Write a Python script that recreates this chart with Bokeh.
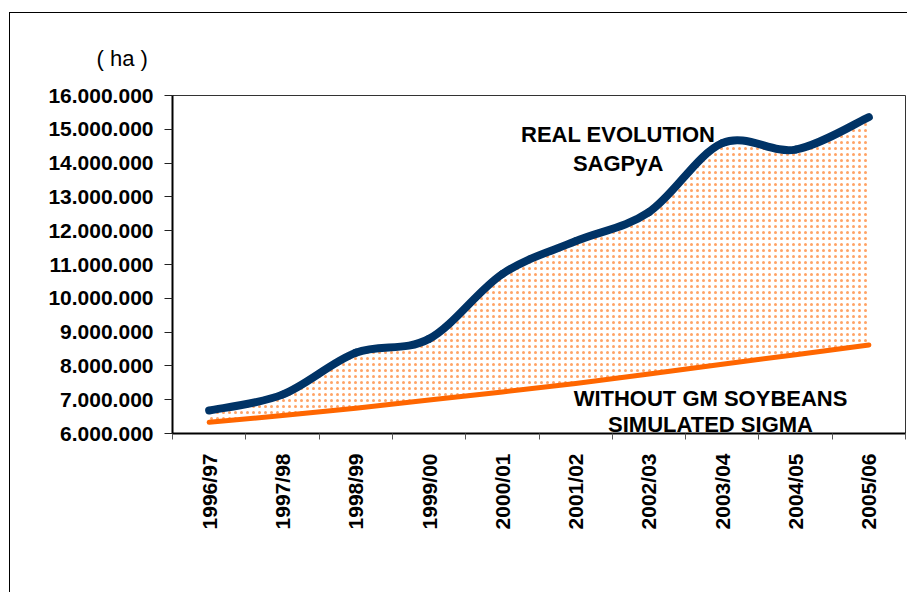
from math import pi
from bokeh.plotting import figure
from bokeh.models import (Range1d, LinearAxis, FixedTicker, Label, ColumnDataSource, Title)
from bokeh.embed import file_html
from bokeh.resources import INLINE

# ---------------- data ----------------
seasons = ["1996/97", "1997/98", "1998/99", "1999/00", "2000/01",
           "2001/02", "2002/03", "2003/04", "2004/05", "2005/06"]
real_evolution = [6680000, 7150000, 8390000, 8800000, 10720000,
                  11690000, 12550000, 14590000, 14400000, 15360000]
without_gm = [6330000, 6530000, 6750000, 6990000, 7230000,
              7480000, 7760000, 8050000, 8330000, 8620000]
y_ticks = [6000000, 7000000, 8000000, 9000000, 10000000, 11000000,
           12000000, 13000000, 14000000, 15000000, 16000000]
y_tick_labels = ["6.000.000", "7.000.000", "8.000.000", "9.000.000",
                 "10.000.000", "11.000.000", "12.000.000", "13.000.000",
                 "14.000.000", "15.000.000", "16.000.000"]
unit_label = "( ha )"
real_label = ["REAL EVOLUTION", "SAGPyA"]
sim_label = ["WITHOUT GM SOYBEANS", "SIMULATED SIGMA"]

FONT = "Liberation Sans"
BLUE = "#003366"
ORANGE = "#FF6600"

n = len(seasons)
xs = [i + 0.5 for i in range(n)]          # category centres
edges = list(range(n + 1))                # category boundaries

p = figure(width=898, height=580, x_range=Range1d(0, n),
           y_range=Range1d(y_ticks[0], y_ticks[-1]),
           output_backend="svg", toolbar_location=None,
           x_axis_location=None, y_axis_location=None,
           min_border_left=162, min_border_right=3,
           min_border_top=82, min_border_bottom=160)
p.styles = {"margin-left": "9px", "margin-top": "12px",
            "border-top": "1px solid #000", "border-left": "1px solid #000"}
p.xgrid.visible = False
p.ygrid.visible = False
p.outline_line_color = "#333333"
p.outline_line_width = 1
p.background_fill_color = "white"
p.border_fill_color = "white"

# unit caption above the axis
p.title = Title(text=unit_label, align="left", offset=-76, standoff=50,
                text_font=FONT, text_font_style="normal", text_font_size="22px",
                text_color="black")

# y axis
yaxis = LinearAxis(ticker=FixedTicker(ticks=y_ticks),
                   major_label_overrides=dict(zip(y_ticks, y_tick_labels)),
                   major_label_text_font=FONT, major_label_text_font_style="bold",
                   major_label_text_font_size="21px", major_label_text_color="black",
                   major_tick_out=8, major_tick_in=0, major_label_standoff=11,
                   minor_tick_line_color=None, axis_line_width=2,
                   axis_line_color="black", major_tick_line_color="#222")
p.add_layout(yaxis, "left")

# x axis: tick marks between categories, then category labels
edge_axis = LinearAxis(ticker=FixedTicker(ticks=edges),
                       major_label_overrides={i: "" for i in edges},
                       major_label_text_font_size="1px", major_label_standoff=0,
                       major_tick_out=6, major_tick_in=0, minor_tick_line_color=None,
                       axis_line_width=2, axis_line_color="black",
                       major_tick_line_color="#555")
p.add_layout(edge_axis, "below")
cat_axis = LinearAxis(ticker=FixedTicker(ticks=xs),
                      major_label_overrides=dict(zip(xs, seasons)),
                      axis_line_color=None, major_tick_line_color=None,
                      minor_tick_line_color=None,
                      major_label_orientation=pi / 2,
                      major_label_text_font=FONT, major_label_text_font_style="bold",
                      major_label_text_font_size="21px", major_label_text_color="black",
                      major_label_standoff=8)
p.add_layout(cat_axis, "below")

# hatched area between series
p.varea(x=xs, y1=without_gm, y2=real_evolution, fill_color=None,
        hatch_pattern="dot", hatch_color=ORANGE, hatch_scale=6, hatch_alpha=0.6)

# orange line
p.line(x=xs, y=without_gm, line_color=ORANGE, line_width=5, line_cap="round",
       line_join="round")

# smoothed blue line (Bezier segments, Excel-like smoothing)
ys = real_evolution
seg = dict(x0=[], y0=[], x1=[], y1=[], cx0=[], cy0=[], cx1=[], cy1=[])
for i in range(n - 1):
    a = max(i - 1, 0)
    b = min(i + 2, n - 1)
    seg["x0"].append(xs[i]); seg["y0"].append(ys[i])
    seg["x1"].append(xs[i + 1]); seg["y1"].append(ys[i + 1])
    seg["cx0"].append(xs[i] + (xs[i + 1] - xs[a]) / 6)
    seg["cy0"].append(ys[i] + (ys[i + 1] - ys[a]) / 6)
    seg["cx1"].append(xs[i + 1] - (xs[b] - xs[i]) / 6)
    seg["cy1"].append(ys[i + 1] - (ys[b] - ys[i]) / 6)
p.bezier(x0="x0", y0="y0", x1="x1", y1="y1", cx0="cx0", cy0="cy0", cx1="cx1", cy1="cy1",
         source=ColumnDataSource(seg), line_color=BLUE, line_width=8, line_cap="round")

# annotations
def lab(text, x, y):
    p.add_layout(Label(text=text, x=x, y=y, text_font=FONT, text_font_style="bold",
                       text_font_size="22px", text_color="black", text_align="center",
                       text_baseline="alphabetic"))

lab(real_label[0], 6.08, 14850000)
lab(real_label[1], 6.08, 13990000)
lab(sim_label[0], 7.34, 7050000)
lab(sim_label[1], 7.34, 6280000)

open("out.html", "w").write(file_html(p, INLINE))
